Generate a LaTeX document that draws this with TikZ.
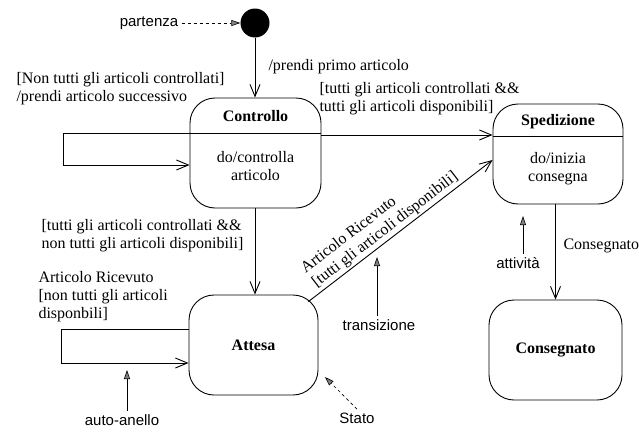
\documentclass[tikz,border=0pt]{standalone}
\usepackage{fontspec}
\setmainfont{Liberation Serif}
\setsansfont{Liberation Sans}
\usetikzlibrary{arrows.meta}
\begin{document}
\begin{tikzpicture}[x=1pt,y=-1pt,>={Straight Barb[length=12pt,width=10pt]},
  font=\fontsize{16}{18}\selectfont,
  stato/.style={draw,rounded corners=25pt,line width=.9pt,inner sep=0pt},
  nome/.style={font=\fontsize{16}{18}\selectfont\bfseries},
  trans/.style={->,line width=.9pt},
  nota/.style={font=\sffamily\fontsize{15}{17}\selectfont},
  freccia/.style={-{Triangle[length=9pt,width=6pt,fill=gray]},line width=.6pt}]
\useasboundingbox (0,0) rectangle (639,431);
% stati
\node[circle,fill,minimum size=29pt,inner sep=0pt] (ini) at (255,23) {};
\node[stato,minimum width=131pt,minimum height=110pt] (ctl) at (255.5,153) {};
\node[nome] (ctlnome) at (255.5,116) {Controllo};
\node[align=center] (ctlatt) at (255.5,166) {do/controlla\\articolo};
\draw[line width=.9pt] (ctl.west |- 0,133) -- (ctl.east |- 0,133);
\node[stato,minimum width=130pt,minimum height=100pt] (spd) at (558,154) {};
\node[nome] (spdnome) at (558,122) {Spedizione};
\node[align=center] (spdatt) at (558,169) {do/inizia\\consegna};
\draw[line width=.9pt] (spd.west |- 0,136) -- (spd.east |- 0,136);
\node[stato,nome,minimum width=129pt,minimum height=100pt] (att) at (253.5,345) {Attesa};
\node[stato,nome,minimum width=133pt,minimum height=100pt] (cons) at (555.5,350) {Consegnato};
% transizioni
\draw[trans] (ini) -- (ini |- ctl.north);
\node[anchor=west] (t1) at (265,67) {/prendi primo articolo};
\coordinate (c1) at (63,133);
\coordinate (c2) at (63,165);
\draw[trans] (ctl.west |- c1) -- (c1) -- (c2) -- (ctl.west |- c2);
\node[anchor=west,align=left] (t2) at (13,89) {[Non tutti gli articoli controllati]\\/prendi articolo successivo};
\draw[trans] (ctl.east |- 0,135) -- (spd.west |- 0,135);
\node[anchor=west,align=left] (t3) at (316,99) {[tutti gli articoli controllati \&\&\\tutti gli articoli disponibili]};
\draw[trans] (ctl.south -| 255,0) -- (att.north -| 255,0);
\node[anchor=west,align=left] (t4) at (38,236) {[tutti gli articoli controllati \&\&\\non tutti gli articoli disponibili]};
\coordinate (a1) at (61,329);
\coordinate (a2) at (61,363);
\draw[trans] (att.west |- a1) -- (a1) -- (a2) -- (att.west |- a2);
\node[anchor=west,align=left] (t5) at (35,297) {Articolo Ricevuto\\{[non} tutti gli articoli\\disponbili]};
\draw[trans] ([shift={(-10pt,-7pt)}]att.north east) -- node[pos=.45,above,sloped,align=left,inner sep=2pt] (t6) {Articolo Ricevuto\\{[tutti} gli articoli disponibili]} (spd.west |- 0,160);
\draw[trans] (cons.north |- spd.south) -- (cons.north);
\node[anchor=west] (t7) at (560,246) {Consegnato};
% note
\node[nota] (n1) at (149,23) {partenza};
\draw[freccia,dashed] (n1) -- (ini);
\node[nota] (n2) at (122,420) {auto-anello};
\coordinate (p2) at (127,370);
\draw[freccia] (n2.north -| p2) -- (p2);
\node[nota] (n3) at (379,325) {transizione};
\coordinate (p3) at (377,257);
\draw[freccia] (n3.north -| p3) -- (p3);
\node[nota] (n4) at (518,263) {attività};
\coordinate (p4) at (523,216);
\draw[freccia] (n4.north -| p4) -- (p4);
\node[nota] (n5) at (357,418) {Stato};
\coordinate (p5) at (325,377);
\draw[freccia,dashed] (n5.north) -- (p5);
\end{tikzpicture}
\end{document}
